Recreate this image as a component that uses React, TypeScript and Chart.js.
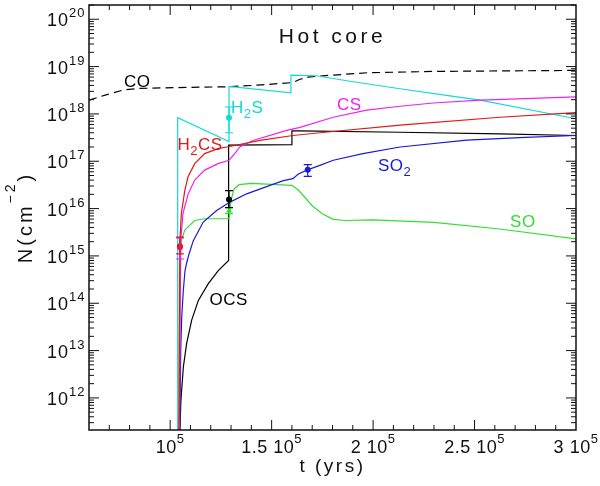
import { useEffect, useRef } from "react"
import { Chart, registerables } from "chart.js"

Chart.register(...registerables)

// model curves: time (yrs) and column density (cm^-2)
const coT = [60000, 68000, 77000, 85000, 103000, 129000, 145000, 160500, 164000, 168000, 180000, 197000, 230000, 262500, 300000]
const coN = [1.95e18, 2.5e18, 3.2e18, 3.45e18, 3.6e18, 3.75e18, 4.1e18, 4.6e18, 5.4e18, 6.0e18, 6.6e18, 7.4e18, 7.9e18, 8.1e18, 8.3e18]

const h2sT = [103700, 103700, 129000, 129000, 159500, 159500, 172000, 188600, 213300, 237900, 252700, 300000]
const h2sN = [1e11, 8.3e17, 2.6e17, 3.8e18, 2.8e18, 6.6e18, 6.4e18, 4.9e18, 3.4e18, 2.4e18, 1.95e18, 7.9e17]

const csT = [104500, 105200, 106300, 108800, 112100, 117000, 123600, 129000, 131800, 134300, 140800, 157400, 164000, 180400, 196800, 213300, 229600, 252700, 300000]
const csN = [1e11, 2.1e15, 7.8e15, 2.0e16, 4.0e16, 6.5e16, 8.9e16, 1.05e17, 1.45e17, 2.0e17, 2.75e17, 4.5e17, 5.2e17, 8.5e17, 1.2e18, 1.45e18, 1.7e18, 1.95e18, 2.3e18]

const h2csT = [104300, 104800, 105500, 107200, 108800, 112100, 117000, 123600, 129300, 144300, 160500, 173800, 213300, 262500, 300000]
const h2csN = [1e11, 2.1e15, 7.8e15, 2.4e16, 4.7e16, 8.9e16, 1.45e17, 1.85e17, 2.05e17, 2.75e17, 3.5e17, 4.0e17, 5.8e17, 8.5e17, 1.07e18]

const ocsT = [104500, 105300, 106500, 108100, 110600, 113900, 118800, 123700, 128800, 128800, 160000, 160000, 164000, 213300, 262500, 300000]
const ocsN = [1e11, 8.9e11, 4.5e12, 1.4e13, 4.4e13, 1.15e14, 2.6e14, 4.9e14, 8.0e14, 2.2e17, 2.25e17, 4.4e17, 4.4e17, 4.1e17, 3.8e17, 3.5e17]

const so2T = [104700, 105200, 105700, 106500, 107300, 108100, 109300, 111400, 116300, 122900, 129500, 137700, 149200, 155800, 160500, 163000, 167300, 173800, 180400, 195000, 213300, 246100, 275000, 300000]
const so2N = [1e11, 1e13, 5.2e13, 1.9e14, 4.8e14, 7e14, 1.1e15, 2.1e15, 5.2e15, 9.1e15, 1.37e16, 2.05e16, 3.1e16, 3.9e16, 4.3e16, 5.3e16, 6.5e16, 8.2e16, 1.05e17, 1.45e17, 2.0e17, 2.8e17, 3.2e17, 3.5e17]

const soT = [104200, 104600, 105500, 107200, 108800, 112100, 117000, 125000, 129000, 130000, 131500, 134000, 140000, 160000, 163000, 166000, 170000, 175000, 180000, 186000, 200000, 230000, 262500, 300000]
const soN = [1e11, 6e14, 2.1e15, 3.5e15, 4.1e15, 5.6e15, 6.1e15, 6.1e15, 6.1e15, 1.5e16, 2.6e16, 3.2e16, 3.4e16, 3.1e16, 2.5e16, 1.8e16, 1.15e16, 7.8e15, 6.0e15, 5.6e15, 5.8e15, 5.1e15, 3.7e15, 2.3e15]

// observed values with error bars
const obsT = [104800, 104800, 129000, 129000, 129000, 167800]
const obsN = [1.5e15, 1.6e15, 8.3e17, 9.0e15, 1.55e16, 6.6e16]
const obsLo = [8.6e14, 1.1e15, 4.0e17, 7.8e15, 1.05e16, 4.8e16]
const obsHi = [2.4e15, 2.5e15, 1.4e18, 1.05e16, 2.4e16, 8.5e16]

// curve labels, anchored in data coordinates (left edge, baseline)
const labelT = [77250, 130000, 103600, 182200, 202400, 267500, 119400]
const labelN = [3.7e18, 1.04e18, 1.69e17, 1.21e18, 6.3e16, 4.08e15, 9.2e13]

// tick labels
const xTickVals = [100000, 150000, 200000, 250000, 300000]
const xTickText = ["10", "1.5 10", "2 10", "2.5 10", "3 10"]
const yTickExps = [12, 13, 14, 15, 16, 17, 18, 19, 20]

const CYAN = "#12dada"
const MAGENTA = "#ee22ee"
const RED = "#e01818"
const BLUE = "#1a1ad6"
const GREEN = "#33dd33"
const BLACK = "#000000"
const FONT = "'Liberation Sans', Arial, sans-serif"

const obsColor = [MAGENTA, RED, CYAN, GREEN, BLACK, BLUE]

type Part = { text: string; size: number; dy: number }

function drawParts(ctx: CanvasRenderingContext2D, parts: Part[], x: number, y: number, align: "left" | "center", spacing = 0) {
  const c = ctx as any
  c.letterSpacing = `${spacing}px`
  const widths = parts.map((p) => {
    ctx.font = `${p.size}px ${FONT}`
    return ctx.measureText(p.text).width
  })
  const total = widths.reduce((a, b) => a + b, 0)
  let cx = align === "center" ? x - total / 2 : x
  ctx.textAlign = "left"
  ctx.textBaseline = "alphabetic"
  parts.forEach((p, i) => {
    ctx.font = `${p.size}px ${FONT}`
    ctx.fillText(p.text, cx, y + p.dy)
    cx += widths[i]
  })
  c.letterSpacing = "0px"
}

const pts = (t: number[], n: number[]) => t.map((v, i) => ({ x: v, y: n[i] }))

const decorPlugin = {
  id: "decor",
  afterDatasetsDraw(chart: any) {
    const { ctx, scales } = chart
    const x = scales.x
    const y = scales.y
    ctx.save()
    ctx.lineWidth = 1.2
    obsT.forEach((t: number, i: number) => {
      const px = x.getPixelForValue(t)
      const lo = y.getPixelForValue(obsLo[i])
      const hi = y.getPixelForValue(obsHi[i])
      ctx.strokeStyle = obsColor[i]
      ctx.beginPath()
      ctx.moveTo(px, lo)
      ctx.lineTo(px, hi)
      ctx.moveTo(px - 4, lo)
      ctx.lineTo(px + 4, lo)
      ctx.moveTo(px - 4, hi)
      ctx.lineTo(px + 4, hi)
      ctx.stroke()
    })
    ctx.restore()
  },
  afterDraw(chart: any) {
    const { ctx, chartArea: a, scales } = chart
    const x = scales.x
    const y = scales.y
    ctx.save()

    // frame
    ctx.strokeStyle = "#111"
    ctx.lineWidth = 1.5
    ctx.strokeRect(a.left, a.top, a.right - a.left, a.bottom - a.top)

    // ticks, drawn inward on all four sides
    ctx.lineWidth = 1
    ctx.beginPath()
    for (let e = 11; e <= 20; e++) {
      for (let k = 1; k <= 9; k++) {
        const v = k * Math.pow(10, e)
        if (v < y.min || v > y.max) continue
        const py = y.getPixelForValue(v)
        const len = k === 1 ? 10 : 5
        ctx.moveTo(a.left, py)
        ctx.lineTo(a.left + len, py)
        ctx.moveTo(a.right, py)
        ctx.lineTo(a.right - len, py)
      }
    }
    for (let v = 70000; v < 300000; v += 10000) {
      const px = x.getPixelForValue(v)
      const len = v % 50000 === 0 ? 10 : 5
      ctx.moveTo(px, a.bottom)
      ctx.lineTo(px, a.bottom - len)
      ctx.moveTo(px, a.top)
      ctx.lineTo(px, a.top + len)
    }
    ctx.stroke()

    // tick labels
    ctx.fillStyle = "#111"
    yTickExps.forEach((e) => {
      const py = y.getPixelForValue(Math.pow(10, e))
      drawParts(ctx, [{ text: "10", size: 18, dy: 0 }, { text: String(e), size: 13, dy: -9 }], 47, py + 7, "left", 1)
    })
    xTickVals.forEach((v, i) => {
      const px = x.getPixelForValue(v)
      drawParts(ctx, [{ text: xTickText[i], size: 18, dy: 0 }, { text: "5", size: 13, dy: -10 }], px, a.bottom + 23, "center", 0.5)
    })

    // axis titles
    const cxArea = (a.left + a.right) / 2
    drawParts(ctx, [{ text: "t (yrs)", size: 19, dy: 0 }], cxArea, a.bottom + 42, "center", 2.5)
    ctx.save()
    ctx.translate(32, (a.top + a.bottom) / 2)
    ctx.rotate(-Math.PI / 2)
    drawParts(ctx, [{ text: "N(cm", size: 20, dy: 0 }, { text: "\u22122", size: 14, dy: -17 }, { text: ")", size: 20, dy: 0 }], 0, 0, "center", 3)
    ctx.restore()

    // title
    drawParts(ctx, [{ text: "Hot core", size: 21, dy: 0 }], cxArea, a.top + 38, "center", 3.5)

    // curve labels
    const labels: { parts: Part[]; color: string }[] = [
      { parts: [{ text: "CO", size: 17, dy: 0 }], color: BLACK },
      { parts: [{ text: "H", size: 17, dy: 0 }, { text: "2", size: 13, dy: 5 }, { text: "S", size: 17, dy: 0 }], color: CYAN },
      { parts: [{ text: "H", size: 17, dy: 0 }, { text: "2", size: 13, dy: 5 }, { text: "CS", size: 17, dy: 0 }], color: RED },
      { parts: [{ text: "CS", size: 17, dy: 0 }], color: MAGENTA },
      { parts: [{ text: "SO", size: 17, dy: 0 }, { text: "2", size: 13, dy: 5 }], color: BLUE },
      { parts: [{ text: "SO", size: 17, dy: 0 }], color: GREEN },
      { parts: [{ text: "OCS", size: 17, dy: 0 }], color: BLACK },
    ]
    labels.forEach((l, i) => {
      ctx.fillStyle = l.color
      drawParts(ctx, l.parts, x.getPixelForValue(labelT[i]), y.getPixelForValue(labelN[i]), "left", 0.5)
    })

    ctx.restore()
  },
}

export default function App() {
  const chartRef = useRef<HTMLCanvasElement>(null)
  const chartInstance = useRef<Chart | null>(null)

  useEffect(() => {
    document.body.style.margin = "0"
    if (!chartRef.current) return
    if (chartInstance.current) chartInstance.current.destroy()

    const line = (t: number[], n: number[], color: string, dash: number[] = []) => ({
      data: pts(t, n),
      borderColor: color,
      borderWidth: 1.2,
      borderDash: dash,
      pointRadius: 0,
      fill: false,
      tension: 0,
    })

    const ctx = chartRef.current.getContext("2d")
    if (!ctx) return
    chartInstance.current = new Chart(ctx, {
      type: "line",
      data: {
        datasets: [
          {
            data: pts(obsT, obsN),
            showLine: false,
            pointRadius: [3, 3, 3, 3.5, 3, 3],
            pointStyle: ["circle", "circle", "circle", "triangle", "circle", "circle"],
            pointBackgroundColor: obsColor,
            pointBorderColor: obsColor,
            pointBorderWidth: 0,
          } as any,
          line(h2csT, h2csN, RED),
          line(csT, csN, MAGENTA),
          line(so2T, so2N, BLUE),
          line(soT, soN, GREEN),
          line(ocsT, ocsN, BLACK),
          line(h2sT, h2sN, CYAN),
          line(coT, coN, BLACK, [8, 5]),
        ],
      },
      options: {
        animation: false,
        responsive: false,
        maintainAspectRatio: false,
        layout: { padding: { left: 0, right: 24, top: 5, bottom: 0 } },
        plugins: {
          legend: { display: false },
          tooltip: { enabled: false },
        },
        scales: {
          x: {
            type: "linear",
            min: 60000,
            max: 300000,
            ticks: { display: false },
            grid: { display: false },
            border: { display: false },
            afterFit: (s: any) => {
              s.height = 56
            },
          },
          y: {
            type: "logarithmic",
            min: 2.1e11,
            max: 2e20,
            ticks: { display: false },
            grid: { display: false },
            border: { display: false },
            afterFit: (s: any) => {
              s.width = 89
            },
          },
        },
      },
      plugins: [decorPlugin],
    })

    return () => {
      if (chartInstance.current) {
        chartInstance.current.destroy()
        chartInstance.current = null
      }
    }
  }, [])

  return (
    <div style={{ position: "absolute", left: 0, top: 0, width: 600, height: 486, background: "#fff" }}>
      <canvas ref={chartRef} width={600} height={486} style={{ width: 600, height: 486 }} />
    </div>
  )
}
